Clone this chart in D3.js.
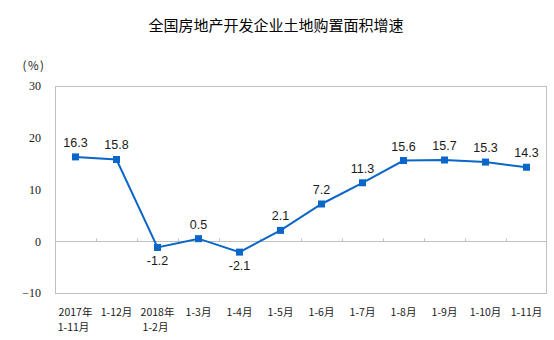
<!DOCTYPE html>
<html>
<head>
<meta charset="utf-8">
<script src="https://cdn.jsdelivr.net/npm/d3@7/dist/d3.min.js"></script>
<style>
  html, body { margin: 0; padding: 0; background: #fff; }
  svg { display: block; }
</style>
</head>
<body>
<svg id="chart" width="554" height="340"></svg>
<script>
// Categories: two-line labels (top line, bottom line)
const categoriesTop = ["2017年", "1-12月", "2018年", "1-3月", "1-4月", "1-5月", "1-6月", "1-7月", "1-8月", "1-9月", "1-10月", "1-11月"];
const categoriesBottom = ["1-11月", "", "1-2月", "", "", "", "", "", "", "", "", ""];
// Cumulative year-on-year growth of land purchase area (%)
const growth = [16.3, 15.8, -1.2, 0.5, -2.1, 2.1, 7.2, 11.3, 15.6, 15.7, 15.3, 14.3];
const yTicks = [-10, 0, 10, 20, 30];
const title = "全国房地产开发企业土地购置面积增速";
const unitLabel = "(%)";

const svg = d3.select("#chart");
const margin = { left: 55, right: 7, top: 86, bottom: 47 };
const W = 554, H = 340;
const lineColor = "#0a66c8";
const gridColor = "#bfbfbf";
const textColor = "#1a1a1a";

const x = d3.scaleBand()
  .domain(d3.range(categoriesTop.length))
  .range([margin.left, W - margin.right]);
const y = d3.scaleLinear()
  .domain([-10, 30])
  .range([H - margin.bottom, margin.top]);

// Title
svg.append("text")
  .attr("x", 276).attr("y", 31)
  .attr("text-anchor", "middle")
  .attr("font-family", "'Noto Sans CJK SC', sans-serif")
  .attr("font-size", 15)
  .attr("fill", "#000")
  .text(title);

// Unit label
svg.append("text")
  .attr("x", 34).attr("y", 70)
  .attr("text-anchor", "middle")
  .attr("font-family", "'Noto Sans CJK SC', sans-serif")
  .attr("font-size", 11.5)
  .attr("letter-spacing", 1.5)
  .attr("fill", textColor)
  .text(unitLabel);

// Plot frame
svg.append("rect")
  .attr("x", margin.left + 0.5).attr("y", y(30) + 0.5)
  .attr("width", W - margin.right - margin.left - 1)
  .attr("height", y(-10) - y(30))
  .attr("fill", "none")
  .attr("stroke", gridColor)
  .attr("stroke-width", 1);

// Y axis labels
const yAxis = d3.axisLeft(y).tickValues(yTicks).tickSize(0).tickPadding(14);
const gy = svg.append("g")
  .attr("transform", `translate(${margin.left},0)`)
  .call(yAxis);
gy.select(".domain").remove();
gy.selectAll("text")
  .attr("font-family", "'Liberation Serif', 'Times New Roman', serif")
  .attr("font-size", 12)
  .attr("fill", textColor);

// Zero baseline with category ticks pointing upward
const xAxis = d3.axisTop(x)
  .tickValues(d3.range(1, categoriesTop.length))
  .tickSize(3)
  .tickFormat("");
const gx = svg.append("g")
  .attr("transform", `translate(0,${Math.round(y(0)) + 0.5})`)
  .call(xAxis);
gx.selectAll(".tick").attr("transform", d => `translate(${Math.round(x(d)) + 0.5},0)`);
gx.select(".domain").attr("stroke", gridColor).attr("d", `M${margin.left},0H${W - margin.right}`);
gx.selectAll(".tick line").attr("stroke", gridColor);

// Category labels
const catG = svg.append("g")
  .attr("font-family", "'Noto Sans CJK SC', sans-serif")
  .attr("font-size", 10.5)
  .attr("fill", textColor)
  .attr("text-anchor", "middle");
categoriesTop.forEach((c, i) => {
  const cx = x(i) + x.bandwidth() / 2;
  catG.append("text").attr("x", cx).attr("y", 316).text(c);
  if (categoriesBottom[i]) {
    catG.append("text").attr("x", cx - 2).attr("y", 331).text(categoriesBottom[i]);
  }
});

// Line
const cxOf = i => x(i) + x.bandwidth() / 2;
const line = d3.line().x((d, i) => cxOf(i)).y(d => y(d));
svg.append("path")
  .datum(growth)
  .attr("d", line)
  .attr("fill", "none")
  .attr("stroke", lineColor)
  .attr("stroke-width", 2);

// Markers
const ms = 7;
svg.append("g").selectAll("rect")
  .data(growth)
  .join("rect")
  .attr("x", (d, i) => cxOf(i) - ms / 2)
  .attr("y", d => y(d) - ms / 2)
  .attr("width", ms).attr("height", ms)
  .attr("fill", lineColor);

// Value labels
svg.append("g").selectAll("text")
  .data(growth)
  .join("text")
  .attr("x", (d, i) => cxOf(i))
  .attr("y", d => d < 0 ? y(d) + 18 : y(d) - 10)
  .attr("text-anchor", "middle")
  .attr("font-family", "'Liberation Sans', Arial, sans-serif")
  .attr("font-size", 12.5)
  .attr("fill", textColor)
  .text(d => d.toFixed(1));
</script>
</body>
</html>
